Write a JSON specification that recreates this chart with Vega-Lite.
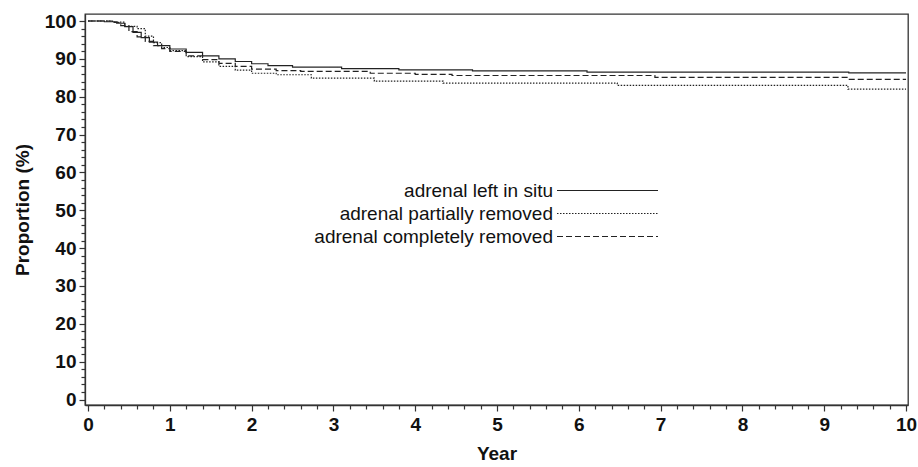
{
  "$schema": "https://vega.github.io/schema/vega-lite/v6.json",
  "width": 823,
  "height": 391,
  "autosize": "none",
  "padding": {"left": 85, "top": 14, "right": 10, "bottom": 62},
  "background": "white",
  "config": {
    "view": {"stroke": "#333", "strokeWidth": 1.3},
    "font": "Liberation Sans",
    "axis": {
      "domainColor": "#333",
      "domainWidth": 1.3,
      "tickColor": "#333",
      "tickWidth": 1.2,
      "labelFont": "Liberation Sans",
      "labelFontWeight": "bold",
      "labelFontSize": 19,
      "labelColor": "#111",
      "titleFont": "Liberation Sans",
      "titleFontWeight": "bold",
      "titleFontSize": 19,
      "titleColor": "#111",
      "grid": false
    }
  },
  "data": {
    "values": [
      {"g": "adrenal left in situ", "t": 0, "p": 100},
      {"g": "adrenal left in situ", "t": 0.2, "p": 99.8},
      {"g": "adrenal left in situ", "t": 0.35, "p": 99.4},
      {"g": "adrenal left in situ", "t": 0.45, "p": 98.5},
      {"g": "adrenal left in situ", "t": 0.55, "p": 97.0},
      {"g": "adrenal left in situ", "t": 0.65, "p": 95.6},
      {"g": "adrenal left in situ", "t": 0.75, "p": 94.4},
      {"g": "adrenal left in situ", "t": 0.85, "p": 93.5},
      {"g": "adrenal left in situ", "t": 1.0, "p": 92.6},
      {"g": "adrenal left in situ", "t": 1.2, "p": 91.7},
      {"g": "adrenal left in situ", "t": 1.4, "p": 90.8},
      {"g": "adrenal left in situ", "t": 1.6, "p": 90.0},
      {"g": "adrenal left in situ", "t": 1.8, "p": 89.3},
      {"g": "adrenal left in situ", "t": 2.0, "p": 88.7},
      {"g": "adrenal left in situ", "t": 2.2, "p": 88.2},
      {"g": "adrenal left in situ", "t": 2.5, "p": 87.8},
      {"g": "adrenal left in situ", "t": 3.1, "p": 87.4},
      {"g": "adrenal left in situ", "t": 3.8, "p": 87.1},
      {"g": "adrenal left in situ", "t": 4.7, "p": 86.8},
      {"g": "adrenal left in situ", "t": 6.1, "p": 86.5},
      {"g": "adrenal left in situ", "t": 9.3, "p": 86.3},
      {"g": "adrenal left in situ", "t": 10.0, "p": 86.3},
      {"g": "adrenal partially removed", "t": 0, "p": 100},
      {"g": "adrenal partially removed", "t": 0.3, "p": 99.7},
      {"g": "adrenal partially removed", "t": 0.45, "p": 98.6},
      {"g": "adrenal partially removed", "t": 0.6, "p": 98.0},
      {"g": "adrenal partially removed", "t": 0.7, "p": 96.0},
      {"g": "adrenal partially removed", "t": 0.8, "p": 94.3},
      {"g": "adrenal partially removed", "t": 0.9, "p": 93.0},
      {"g": "adrenal partially removed", "t": 1.0, "p": 92.2},
      {"g": "adrenal partially removed", "t": 1.2, "p": 90.6},
      {"g": "adrenal partially removed", "t": 1.4, "p": 89.2},
      {"g": "adrenal partially removed", "t": 1.6, "p": 88.0},
      {"g": "adrenal partially removed", "t": 1.8, "p": 87.0},
      {"g": "adrenal partially removed", "t": 2.0, "p": 86.2},
      {"g": "adrenal partially removed", "t": 2.3, "p": 85.8},
      {"g": "adrenal partially removed", "t": 2.73, "p": 84.9},
      {"g": "adrenal partially removed", "t": 3.5, "p": 84.1},
      {"g": "adrenal partially removed", "t": 4.34, "p": 83.6},
      {"g": "adrenal partially removed", "t": 6.47, "p": 83.0},
      {"g": "adrenal partially removed", "t": 9.29, "p": 82.0},
      {"g": "adrenal partially removed", "t": 10.0, "p": 82.0},
      {"g": "adrenal completely removed", "t": 0, "p": 100},
      {"g": "adrenal completely removed", "t": 0.3, "p": 99.6},
      {"g": "adrenal completely removed", "t": 0.4, "p": 98.8},
      {"g": "adrenal completely removed", "t": 0.5, "p": 97.2},
      {"g": "adrenal completely removed", "t": 0.6, "p": 95.8},
      {"g": "adrenal completely removed", "t": 0.7, "p": 94.6},
      {"g": "adrenal completely removed", "t": 0.8, "p": 93.5},
      {"g": "adrenal completely removed", "t": 0.9, "p": 92.7},
      {"g": "adrenal completely removed", "t": 1.0, "p": 92.0},
      {"g": "adrenal completely removed", "t": 1.2, "p": 90.8},
      {"g": "adrenal completely removed", "t": 1.4, "p": 89.8},
      {"g": "adrenal completely removed", "t": 1.6, "p": 88.8},
      {"g": "adrenal completely removed", "t": 1.8, "p": 88.0},
      {"g": "adrenal completely removed", "t": 2.0, "p": 87.3},
      {"g": "adrenal completely removed", "t": 2.3, "p": 86.9},
      {"g": "adrenal completely removed", "t": 2.6, "p": 86.7},
      {"g": "adrenal completely removed", "t": 3.45, "p": 86.2},
      {"g": "adrenal completely removed", "t": 4.0, "p": 85.9},
      {"g": "adrenal completely removed", "t": 4.45, "p": 85.6},
      {"g": "adrenal completely removed", "t": 6.93, "p": 85.1},
      {"g": "adrenal completely removed", "t": 9.29, "p": 84.6},
      {"g": "adrenal completely removed", "t": 10.0, "p": 84.6}
    ]
  },
  "mark": {"type": "line", "interpolate": "step-after", "stroke": "#222", "strokeWidth": 1.2},
  "encoding": {
    "x": {
      "field": "t",
      "type": "quantitative",
      "scale": {"domain": [-0.037, 10.024], "nice": false, "zero": false},
      "axis": {
        "title": "Year",
        "values": [0, 0.2, 0.4, 0.6, 0.8, 1, 1.2, 1.4, 1.6, 1.8, 2, 2.2, 2.4, 2.6, 2.8, 3, 3.2, 3.4, 3.6, 3.8, 4, 4.2, 4.4, 4.6, 4.8, 5, 5.2, 5.4, 5.6, 5.8, 6, 6.2, 6.4, 6.6, 6.8, 7, 7.2, 7.4, 7.6, 7.8, 8, 8.2, 8.4, 8.6, 8.8, 9, 9.2, 9.4, 9.6, 9.8, 10],
        "labelExpr": "abs(datum.value - round(datum.value)) < 0.01 ? format(datum.value, 'd') : ''",
        "tickSize": {"condition": {"test": "abs(datum.value - round(datum.value)) < 0.01", "value": 6}, "value": 4},
        "labelPadding": 4,
        "labelFlush": false,
        "labelOverlap": false,
        "titlePadding": 10
      }
    },
    "y": {
      "field": "p",
      "type": "quantitative",
      "scale": {"domain": [-1.45, 101.85], "nice": false, "zero": false},
      "axis": {
        "title": "Proportion (%)",
        "values": [0, 2, 4, 6, 8, 10, 12, 14, 16, 18, 20, 22, 24, 26, 28, 30, 32, 34, 36, 38, 40, 42, 44, 46, 48, 50, 52, 54, 56, 58, 60, 62, 64, 66, 68, 70, 72, 74, 76, 78, 80, 82, 84, 86, 88, 90, 92, 94, 96, 98, 100],
        "labelExpr": "datum.value % 10 === 0 ? datum.label : ''",
        "tickSize": {"condition": {"test": "datum.value % 10 === 0", "value": 6}, "value": 4},
        "labelPadding": 3,
        "labelFlush": false,
        "labelOverlap": false,
        "titlePadding": 12
      }
    },
    "strokeDash": {
      "field": "g",
      "type": "nominal",
      "scale": {
        "domain": ["adrenal left in situ", "adrenal partially removed", "adrenal completely removed"],
        "range": [[1, 0], [1.5, 1.5], [6, 3]]
      },
      "legend": {
        "title": null,
        "orient": "none",
        "legendX": 511.5,
        "legendY": 165.5,
        "padding": 0,
        "symbolType": "M-5,0H5",
        "symbolSize": 408,
        "symbolStrokeWidth": 1.2,
        "symbolStrokeColor": "#222",
        "labelFont": "Liberation Sans",
        "labelFontSize": 19,
        "labelColor": "#111",
        "labelAlign": "right",
        "labelOffset": -65.5,
        "labelLimit": 400,
        "rowPadding": 2
      }
    }
  }
}
